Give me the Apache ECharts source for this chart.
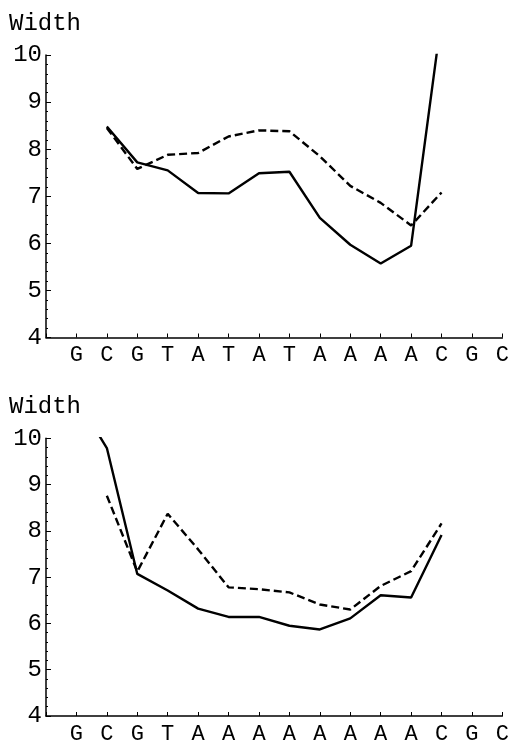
<!DOCTYPE html>
<html>
<head>
<meta charset="utf-8">
<script src="https://cdn.jsdelivr.net/npm/echarts@6/dist/echarts.min.js"></script>
<style>
html,body{margin:0;padding:0;background:#fff;}
#chart{width:512px;height:745px;}
</style>
</head>
<body>
<div id="chart"></div>
<script>
// Sequence letters (x positions 1..15)
const topLetters = ['G','C','G','T','A','T','A','T','A','A','A','A','C','G','C'];
const bottomLetters = ['G','C','G','T','A','A','A','A','A','A','A','A','C','G','C'];

// Y tick range
const yTicks = [4, 5, 6, 7, 8, 9, 10];

// Top panel values aligned with topLetters (null = no value)
const topSolid  = [null, 8.48, 7.72, 7.55, 7.07, 7.06, 7.49, 7.52, 6.54, 5.97, 5.57, 5.95, 10.8, null, null];
const topDashed = [null, 8.45, 7.58, 7.88, 7.92, 8.27, 8.40, 8.38, 7.85, 7.22, 6.86, 6.38, 7.08, null, null];

// Bottom panel values aligned with bottomLetters
const bottomSolid  = [10.86, 9.79, 7.07, 6.71, 6.32, 6.14, 6.14, 5.95, 5.87, 6.11, 6.61, 6.56, 7.91, null, null];
const bottomDashed = [null, 8.76, 7.12, 8.37, 7.60, 6.78, 6.74, 6.67, 6.41, 6.30, 6.81, 7.13, 8.16, null, null];

function pairs(arr){
  const out = [];
  arr.forEach((v,i)=>{ if(v!==null) out.push([i+1, v]); });
  return out;
}

const FONT = 'Liberation Mono';
const chart = echarts.init(document.getElementById('chart'), null, {renderer:'canvas'});

function xAxisFor(gridIndex, letters){
  return {
    type:'value', gridIndex, min:0, max:letters.length, interval:1,
    axisLine:{show:true, onZero:false, lineStyle:{color:'#000', width:1.5}},
    axisTick:{show:true, inside:true, length:4, lineStyle:{color:'#000', width:1}},
    minorTick:{show:false},
    splitLine:{show:false},
    axisLabel:{
      color:'#000', fontFamily:FONT, fontSize:22, margin:7,
      formatter: v => letters[v-1] || ''
    }
  };
}
function yAxisFor(gridIndex){
  return {
    type:'value', gridIndex, min:yTicks[0], max:yTicks[yTicks.length-1], interval:1,
    axisLine:{show:true, lineStyle:{color:'#000', width:1.5}},
    axisTick:{show:true, inside:true, length:5, lineStyle:{color:'#000', width:1}},
    minorTick:{show:true, splitNumber:5, length:2, lineStyle:{color:'#000', width:1}},
    splitLine:{show:false},
    axisLabel:{color:'#000', fontFamily:FONT, fontSize:24, margin:4}
  };
}
function lineSeries(idx, data, dashed){
  return {
    type:'line', xAxisIndex:idx, yAxisIndex:idx, data, symbol:'none',
    clip:true, animation:false,
    lineStyle:{color:'#000', width:2.4, type: dashed ? [8,4] : 'solid'}
  };
}

chart.setOption({
  animation:false,
  backgroundColor:'#fff',
  title:[
    {text:'Width', left:4, top:7, textStyle:{fontFamily:FONT, fontSize:24, fontWeight:'normal', color:'#000'}},
    {text:'Width', left:4, top:390, textStyle:{fontFamily:FONT, fontSize:24, fontWeight:'normal', color:'#000'}}
  ],
  grid:[
    {left:46, right:9, top:55, height:282.5},
    {left:46, right:9, top:438.3, height:282.4}
  ],
  xAxis:[xAxisFor(0, topLetters), xAxisFor(1, bottomLetters)],
  yAxis:[yAxisFor(0), yAxisFor(1)],
  series:[
    lineSeries(0, pairs(topSolid), false),
    lineSeries(0, pairs(topDashed), true),
    lineSeries(1, pairs(bottomSolid), false),
    lineSeries(1, pairs(bottomDashed), true)
  ]
});
</script>
</body>
</html>
